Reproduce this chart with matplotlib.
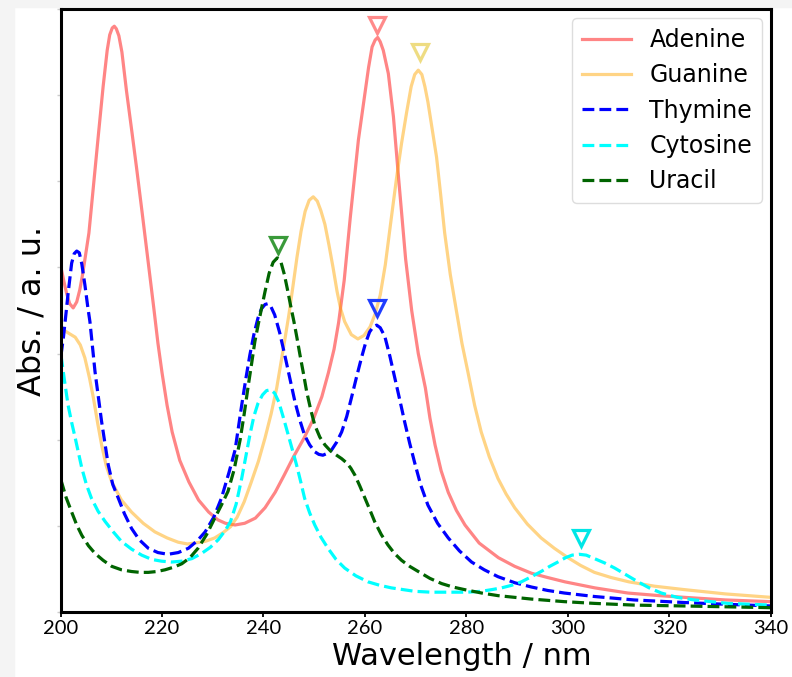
import matplotlib; matplotlib.use('Agg')
import matplotlib.pyplot as plt
from matplotlib.patches import Rectangle

# --- data (nm, abs. in arbitrary units) ---
adenine_nm = [200.2, 200.7, 201.2, 201.8, 202.5, 203.2, 203.8, 204.3, 204.7, 205.6, 206.5, 207.5,
              208.4, 209.2, 209.7, 210.2, 210.6, 211.0, 211.5, 212.1, 213.0, 214.1, 215.0, 216.1,
              217.2, 218.4, 219.2, 220.0, 221.0, 222.0, 223.5, 225.3, 227.2, 229.2, 231.0, 232.5,
              234.4, 236.3, 238.4, 240.3, 242.3, 244.0, 245.9, 248.0, 249.9, 251.5, 252.8, 253.9,
              254.8, 255.9, 257.1, 258.7, 260.7, 261.4, 262.0, 262.5, 263.0, 263.6, 264.6, 265.6,
              266.6, 268.0, 269.2, 270.5, 271.9, 272.8, 273.8, 275.0, 276.4, 278.0, 279.7, 282.5,
              286.3, 289.5, 292.8, 296.0, 299.4, 305.3, 311.8, 318.0, 323.0, 331.0, 340.0]
adenine_abs = [3.97, 3.83, 3.70, 3.58, 3.53, 3.60, 3.74, 3.90, 4.05, 4.40, 4.95, 5.56,
               6.10, 6.52, 6.70, 6.78, 6.80, 6.77, 6.69, 6.50, 6.05, 5.56, 5.15, 4.63,
               4.10, 3.52, 3.12, 2.78, 2.40, 2.09, 1.76, 1.51, 1.30, 1.16, 1.07, 1.03,
               1.01, 1.03, 1.09, 1.21, 1.39, 1.58, 1.80, 2.02, 2.25, 2.50, 2.78, 3.05,
               3.36, 3.85, 4.58, 5.48, 6.32, 6.56, 6.64, 6.67, 6.62, 6.52, 6.25, 5.75,
               5.05, 4.10, 3.50, 3.00, 2.60, 2.25, 1.94, 1.64, 1.39, 1.18, 1.01, 0.80,
               0.63, 0.53, 0.45, 0.40, 0.35, 0.28, 0.22, 0.19, 0.17, 0.14, 0.12]

guanine_nm = [200.2, 201.5, 202.9, 203.9, 204.8, 205.7, 206.5, 207.3, 208.1, 209.0, 210.1, 212.0,
              214.0, 216.3, 218.6, 221.0, 223.2, 225.0, 226.5, 228.5, 230.4, 232.0, 233.5, 234.8,
              236.2, 237.6, 239.0, 240.3, 241.5, 242.6, 243.4, 244.2, 245.0, 245.8, 246.6, 247.4,
              248.2, 249.0, 249.8, 250.6, 251.3, 252.1, 252.9, 253.7, 254.5, 255.2, 256.0, 257.3,
              258.6, 259.8, 261.0, 262.0, 263.0, 264.0, 265.2, 266.2, 267.2, 268.2, 269.1, 269.8,
              270.5, 271.2, 271.8, 272.4, 273.2, 274.1, 274.9, 275.7, 276.8, 278.0, 279.1, 280.3,
              281.6, 282.9, 284.5, 286.2, 287.8, 289.5, 292.0, 294.7, 297.3, 300.0, 302.5, 305.2,
              308.5, 312.0, 317.0, 322.9, 331.0, 340.0]
guanine_abs = [3.29, 3.24, 3.19, 3.10, 2.95, 2.72, 2.48, 2.20, 1.94, 1.70, 1.51, 1.30,
               1.16, 1.03, 0.93, 0.86, 0.81, 0.79, 0.80, 0.82, 0.86, 0.92, 0.99, 1.10,
               1.28, 1.51, 1.75, 2.02, 2.30, 2.60, 2.88, 3.16, 3.45, 3.78, 4.12, 4.42,
               4.65, 4.78, 4.82, 4.77, 4.66, 4.50, 4.26, 4.00, 3.72, 3.52, 3.37, 3.22,
               3.17, 3.21, 3.31, 3.46, 3.68, 4.03, 4.58, 5.03, 5.44, 5.80, 6.10, 6.24,
               6.29, 6.24, 6.10, 5.92, 5.62, 5.28, 4.85, 4.40, 3.92, 3.50, 3.12, 2.78,
               2.40, 2.09, 1.80, 1.55, 1.37, 1.21, 1.02, 0.86, 0.74, 0.63, 0.54, 0.46,
               0.40, 0.35, 0.30, 0.26, 0.21, 0.17]

thymine_nm = [200.1, 200.6, 201.0, 201.5, 202.2, 202.7, 203.2, 203.7, 204.2, 204.8, 205.4, 205.8,
              206.8, 208.1, 209.4, 210.3, 211.4, 212.6, 214.0, 215.5, 217.3, 219.2, 221.2, 223.2,
              225.2, 227.0, 228.5, 230.2, 231.7, 233.2, 234.4, 235.7, 236.5, 237.3, 238.1, 238.9,
              239.6, 240.3, 240.9, 241.5, 242.2, 243.2, 244.2, 245.2, 246.2, 247.2, 248.1, 249.1,
              250.1, 250.9, 251.7, 252.5, 253.4, 254.4, 255.4, 256.4, 257.3, 258.3, 259.3, 260.1,
              260.9, 261.6, 262.3, 263.0, 263.9, 264.9, 265.9, 266.9, 267.8, 268.8, 269.8, 271.0,
              272.4, 274.3, 276.4, 278.6, 281.0, 283.5, 286.2, 289.5, 292.8, 296.0, 299.3, 305.2,
              313.0, 322.9, 331.0, 340.0]
thymine_abs = [2.98, 3.20, 3.42, 3.70, 4.05, 4.16, 4.19, 4.17, 4.04, 3.80, 3.53, 3.37,
               2.79, 2.21, 1.71, 1.48, 1.32, 1.14, 0.97, 0.84, 0.74, 0.69, 0.67, 0.69,
               0.74, 0.83, 0.93, 1.10, 1.32, 1.62, 1.88, 2.40, 2.70, 2.98, 3.22, 3.41,
               3.52, 3.57, 3.58, 3.54, 3.45, 3.24, 2.98, 2.71, 2.44, 2.22, 2.05, 1.94,
               1.86, 1.83, 1.82, 1.84, 1.88, 1.97, 2.09, 2.27, 2.48, 2.72, 2.95, 3.12,
               3.25, 3.31, 3.33, 3.30, 3.20, 2.97, 2.71, 2.45, 2.21, 1.96, 1.73, 1.47,
               1.24, 1.03, 0.86, 0.71, 0.58, 0.49, 0.41, 0.34, 0.29, 0.25, 0.22, 0.18,
               0.14, 0.11, 0.09, 0.07]

cytosine_nm = [200.1, 200.8, 201.5, 202.2, 202.9, 204.2, 205.1, 206.1, 207.4, 208.8, 210.4, 212.0,
               214.0, 216.0, 218.0, 219.9, 221.9, 223.9, 225.9, 227.8, 229.5, 231.1, 232.5, 233.5,
               234.6, 235.7, 236.5, 237.3, 238.1, 238.9, 239.8, 240.6, 241.4, 242.2, 243.0, 243.9,
               244.9, 245.7, 246.5, 247.3, 248.1, 249.1, 250.1, 251.3, 252.7, 254.3, 256.0, 258.2,
               260.6, 262.9, 265.2, 269.8, 273.0, 276.4, 280.0, 282.9, 285.0, 286.9, 288.9, 290.8,
               292.8, 294.7, 296.4, 298.0, 299.5, 300.8, 302.2, 303.6, 305.2, 307.2, 309.2, 311.5,
               313.8, 316.0, 318.4, 321.5, 324.9, 331.5, 340.0]
cytosine_abs = [2.98, 2.68, 2.40, 2.20, 2.02, 1.67, 1.48, 1.32, 1.17, 1.05, 0.93, 0.82,
                0.73, 0.66, 0.61, 0.59, 0.58, 0.59, 0.62, 0.68, 0.75, 0.84, 0.95, 1.05,
                1.25, 1.55, 1.80, 2.05, 2.27, 2.42, 2.52, 2.57, 2.58, 2.54, 2.44, 2.26,
                2.05, 1.88, 1.71, 1.52, 1.32, 1.15, 1.01, 0.87, 0.74, 0.61, 0.51, 0.42,
                0.35, 0.31, 0.28, 0.24, 0.23, 0.23, 0.23, 0.24, 0.26, 0.28, 0.31, 0.35,
                0.41, 0.47, 0.53, 0.58, 0.63, 0.66, 0.67, 0.66, 0.62, 0.57, 0.51, 0.43,
                0.35, 0.28, 0.22, 0.17, 0.14, 0.10, 0.08]

uracil_nm = [200.1, 201.1, 202.2, 203.2, 204.2, 205.5, 206.8, 208.4, 210.1, 212.0, 214.0, 215.7,
             217.3, 219.0, 220.6, 222.3, 223.9, 225.5, 227.1, 228.8, 230.4, 231.7, 233.0, 234.2,
             235.4, 236.2, 237.0, 237.7, 238.3, 239.0, 239.6, 240.3, 241.1, 241.9, 242.7, 243.4,
             244.1, 244.7, 245.3, 246.0, 246.6, 247.2, 247.9, 248.5, 249.3, 250.1, 251.1, 252.1,
             253.2, 254.4, 255.4, 256.4, 257.2, 258.0, 259.0, 260.0, 261.0, 261.9, 263.2, 264.5,
             265.8, 267.2, 268.8, 270.5, 272.8, 275.1, 277.3, 279.6, 283.0, 286.2, 292.8, 299.3,
             305.2, 313.0, 322.9, 340.0]
uracil_abs = [1.53, 1.33, 1.16, 1.01, 0.89, 0.77, 0.68, 0.60, 0.53, 0.49, 0.47, 0.46,
              0.46, 0.47, 0.49, 0.52, 0.56, 0.63, 0.74, 0.90, 1.09, 1.24, 1.40, 1.65,
              2.00, 2.30, 2.63, 2.90, 3.14, 3.35, 3.52, 3.72, 3.93, 4.06, 4.11, 4.07,
              3.92, 3.75, 3.57, 3.37, 3.18, 2.98, 2.76, 2.56, 2.35, 2.17, 2.03, 1.94,
              1.87, 1.82, 1.78, 1.73, 1.67, 1.59, 1.46, 1.32, 1.18, 1.05, 0.90, 0.78,
              0.68, 0.60, 0.53, 0.47, 0.39, 0.33, 0.29, 0.26, 0.22, 0.19, 0.15, 0.12,
              0.10, 0.08, 0.07, 0.05]

names = ['Adenine', 'Guanine', 'Thymine', 'Cytosine', 'Uracil']
peak_nm = [262.4, 270.9, 262.4, 302.5, 242.8]
peak_mark = [6.82, 6.50, 3.53, 0.86, 4.26]

series = [(adenine_nm, adenine_abs), (guanine_nm, guanine_abs), (thymine_nm, thymine_abs),
          (cytosine_nm, cytosine_abs), (uracil_nm, uracil_abs)]
colors = ['red', 'orange', 'blue', 'cyan', 'darkgreen']
alphas = [0.48, 0.48, 1, 1, 1]
styles = ['-', '-', '--', '--', '--']
mcolors = ['#ff8a8a', '#eedc82', '#1f3dff', '#00e6e6', '#3a9a3a']

fig = plt.figure(figsize=(7.92, 6.77), dpi=100, facecolor='white')
# grey margin of the screenshot
fig.patches.append(Rectangle((0, 0), 14/792, 1, transform=fig.transFigure, color='#f4f4f4', zorder=-5))
fig.patches.append(Rectangle((0, 1-7/677), 1, 7/677, transform=fig.transFigure, color='#f4f4f4', zorder=-5))
ax = fig.add_axes([60.5/792, 65/677, 710.5/792, 603/677])

for (xs, ys), n, c, a, ls in zip(series, names, colors, alphas, styles):
    ax.plot(xs, ys, ls, color=c, alpha=a, lw=2.3, label=n)
for px, py, mc in zip(peak_nm, peak_mark, mcolors):
    ax.plot(px, py, 'v', ms=12, mfc='none', mec=mc, mew=2.3)

ax.set_xlim(200, 340)
ax.set_ylim(0, 7)
ax.set_xticks(range(200, 341, 20))
ax.set_yticks(range(0, 8))
ax.set_yticklabels([])
ax.tick_params(axis='y', length=3, width=1, color='#cccccc')
ax.tick_params(axis='x', length=3.5, width=1.3, labelsize=14.5, pad=2.5)
for lab in ax.get_xticklabels():
    lab.set_family('Lato')
for s in ax.spines.values():
    s.set_linewidth(2.2)

ax.set_xlabel('Wavelength / nm', size=22)
ax.xaxis.set_label_coords(0.565, -0.049)
ax.set_ylabel('Abs. / a. u.', size=23)
ax.yaxis.set_label_coords(-0.018, 0.5)

leg = ax.legend(loc='upper right', fontsize=17, handlelength=2.1, handletextpad=0.76,
                labelspacing=0.48, borderaxespad=0.4, borderpad=0.4, framealpha=1,
                edgecolor='#dddddd')
plt.savefig('out.png', dpi=100, facecolor=fig.get_facecolor())
